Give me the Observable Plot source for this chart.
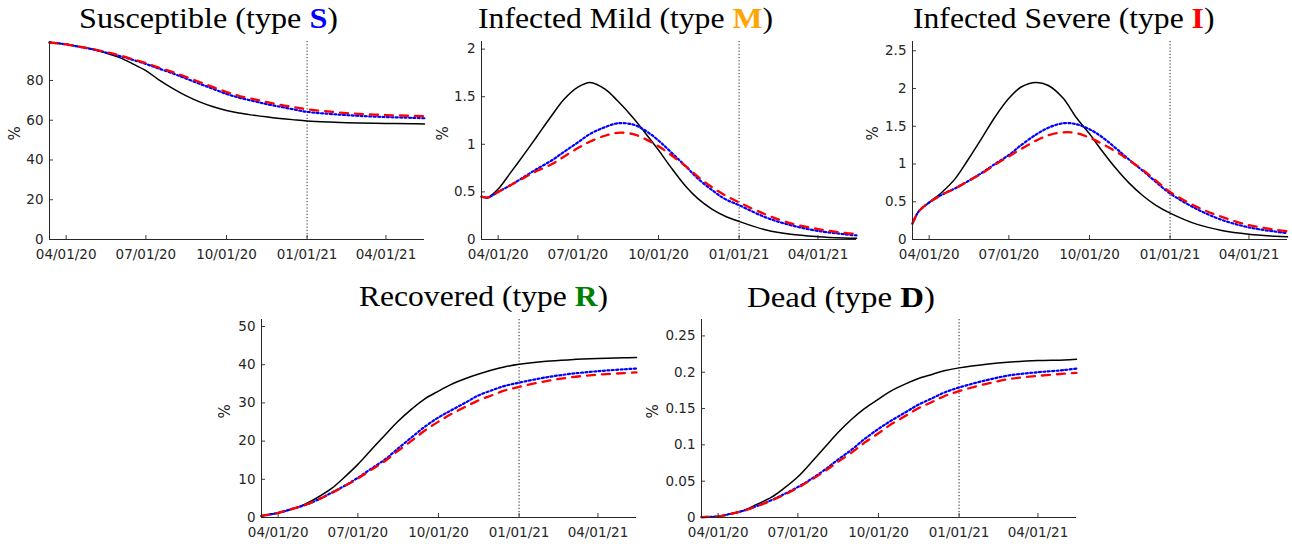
<!DOCTYPE html>
<html><head><meta charset="utf-8">
<script src="https://cdn.jsdelivr.net/npm/d3@7"></script>
<script src="https://cdn.jsdelivr.net/npm/@observablehq/plot@0.6"></script>
<style>
html,body{margin:0;padding:0;background:#fff;overflow:hidden;}
#root{position:relative;width:1292px;height:544px;overflow:hidden;}
.panel{position:absolute;}
.panel svg{max-width:none;display:block;}
.title{position:absolute;font-family:"Liberation Serif",serif;font-size:28.5px;line-height:28.5px;white-space:nowrap;color:#000;transform-origin:0 0;}
.title b{font-weight:bold;}
</style></head><body><div id="root"></div>
<script>
// ---------- data ----------
const dates = ["2020-03-13","2020-03-20","2020-04-01","2020-04-15","2020-05-01","2020-05-15","2020-06-01","2020-06-15",
  "2020-07-01","2020-07-15","2020-08-01","2020-08-15","2020-09-01","2020-09-15","2020-10-01","2020-10-15",
  "2020-11-01","2020-11-15","2020-12-01","2020-12-15","2021-01-01","2021-02-01","2021-03-01","2021-04-01",
  "2021-05-01","2021-05-15"];
const xDomain = ["2020-03-13","2021-05-15"];
const xTickDates = ["2020-04-01","2020-07-01","2020-10-01","2021-01-01","2021-04-01"];
const xTickLabels = ["04/01/20","07/01/20","10/01/20","01/01/21","04/01/21"];
const markerDate = "2021-01-01";

const susceptibleBlack = [99.1,98.8,98.2,97.1,95.7,94.0,91.5,88.6,84.9,80.6,75.9,72.5,69.1,66.9,64.9,63.6,62.5,61.7,60.9,60.3,59.6,59.0,58.6,58.4,58.2,58.1];
const susceptibleBlue  = [99.1,98.8,98.2,97.0,95.7,94.2,92.3,90.5,88.3,86.1,83.5,81.1,78.2,75.9,73.2,71.4,69.6,68.2,66.8,65.6,64.2,63.0,62.2,61.6,61.2,61.0];
const susceptibleRed   = [99.1,98.8,98.2,97.1,95.8,94.4,92.6,90.8,88.7,86.6,84.2,81.9,79.1,76.8,74.2,72.3,70.6,69.2,67.8,66.7,65.5,64.1,63.2,62.6,62.2,62.1];

const mildBlack = [0.45,0.44,0.53,0.70,0.90,1.08,1.30,1.47,1.60,1.65,1.58,1.46,1.29,1.13,0.94,0.76,0.56,0.43,0.32,0.25,0.19,0.10,0.055,0.03,0.016,0.012];
const mildBlue  = [0.45,0.44,0.50,0.57,0.66,0.74,0.83,0.92,1.02,1.11,1.18,1.22,1.21,1.15,1.04,0.92,0.77,0.64,0.52,0.43,0.36,0.23,0.15,0.09,0.055,0.043];
const mildRed   = [0.45,0.44,0.50,0.57,0.65,0.72,0.79,0.87,0.96,1.03,1.09,1.12,1.11,1.06,0.98,0.89,0.77,0.66,0.55,0.47,0.39,0.26,0.17,0.11,0.07,0.058];

const severeBlack = [0.21,0.37,0.49,0.62,0.81,1.05,1.36,1.62,1.87,2.02,2.08,2.04,1.87,1.63,1.40,1.18,0.93,0.75,0.58,0.46,0.35,0.20,0.12,0.07,0.044,0.035];
const severeBlue  = [0.21,0.37,0.49,0.59,0.68,0.77,0.89,1.00,1.12,1.25,1.39,1.48,1.54,1.53,1.46,1.36,1.20,1.06,0.91,0.77,0.61,0.40,0.26,0.16,0.105,0.085];
const severeRed   = [0.21,0.37,0.49,0.59,0.68,0.77,0.88,0.99,1.10,1.20,1.31,1.38,1.42,1.41,1.35,1.27,1.16,1.05,0.92,0.79,0.63,0.43,0.30,0.19,0.13,0.11];

const recoveredBlack = [0.4,0.7,1.2,2.1,3.4,5.1,7.6,10.4,13.9,17.4,21.6,25.0,28.5,31.0,33.1,34.8,36.4,37.5,38.6,39.4,40.1,40.9,41.3,41.6,41.8,41.9];
const recoveredBlue  = [0.4,0.7,1.2,2.1,3.2,4.5,6.5,8.2,10.4,12.6,15.2,17.9,21.1,23.7,26.2,28.0,30.1,31.9,33.3,34.4,35.3,36.7,37.6,38.3,38.8,39.0];
const recoveredRed   = [0.4,0.7,1.2,2.1,3.2,4.5,6.4,8.1,10.2,12.3,14.8,17.3,20.2,22.7,25.1,27.0,29.0,30.6,32.0,33.2,34.2,35.7,36.7,37.4,37.8,38.0];

const deadBlack = [0.0005,0.0008,0.0015,0.005,0.010,0.018,0.028,0.040,0.056,0.074,0.097,0.116,0.136,0.150,0.163,0.174,0.184,0.191,0.197,0.202,0.206,0.211,0.214,0.216,0.217,0.218];
const deadBlue  = [0.0005,0.0008,0.0015,0.005,0.0097,0.0156,0.024,0.032,0.042,0.052,0.066,0.079,0.094,0.108,0.122,0.133,0.145,0.155,0.164,0.172,0.179,0.189,0.196,0.200,0.203,0.205];
const deadRed   = [0.0005,0.0008,0.0015,0.005,0.0097,0.0155,0.0235,0.031,0.041,0.051,0.064,0.076,0.090,0.103,0.116,0.128,0.140,0.150,0.159,0.167,0.174,0.184,0.191,0.195,0.198,0.199];

const susceptibleTicks = [0,20,40,60,80];
const mildTicks = [0,0.5,1,1.5,2];
const severeTicks = [0,0.5,1,1.5,2,2.5];
const recoveredTicks = [0,10,20,30,40,50];
const deadTicks = [0,0.05,0.1,0.15,0.2,0.25];

const titleNames = ["Susceptible","Infected Mild","Infected Severe","Recovered","Dead"];
const titleLetters = ["S","M","I","R","D"];
const letterColors = ["#0000ff","#ffa500","#ff0000","#008000","#000000"];

// ---------- layout ----------
const panels = [
  {black:susceptibleBlack, blue:susceptibleBlue, red:susceptibleRed, ticks:susceptibleTicks, yMax:99.6,
   fx:49.3, fy:40.7, tx:79, tb:28.5, tw:259, pdx:-34.8},
  {black:mildBlack, blue:mildBlue, red:mildRed, ticks:mildTicks, yMax:2.08,
   fx:480.7, fy:40.7, tx:478.3, tb:29, tw:295, pdx:-38.7},
  {black:severeBlack, blue:severeBlue, red:severeRed, ticks:severeTicks, yMax:2.623,
   fx:912, fy:40.7, tx:912.7, tb:29, tw:301.5, pdx:-39},
  {black:recoveredBlack, blue:recoveredBlue, red:recoveredRed, ticks:recoveredTicks, yMax:51.83,
   fx:261, fy:319.3, tx:359.3, tb:307.3, tw:249, pdx:-36},
  {black:deadBlack, blue:deadBlue, red:deadRed, ticks:deadTicks, yMax:0.2726,
   fx:701, fy:319.3, tx:747.3, tb:307.7, tw:188, pdx:-48}
];

const root = document.getElementById("root");
const W = 375, H = 198, ml = 50, mr = 6, mt = 4, mb = 30;
const xt = xTickDates.map(d => new Date(d));
const labelFor = new Map(xt.map((d, i) => [+d, xTickLabels[i]]));
const xd = xDomain.map(d => new Date(d));
const axisColor = "#262626";
const tickFont = "DejaVu Sans";

panels.forEach((p, k) => {
  const rows = arr => arr.map((v, i) => ({date: new Date(dates[i]), value: v}));
  const svg = Plot.plot({
    width: W + ml + mr, height: H + mt + mb,
    marginLeft: ml, marginRight: mr, marginTop: mt, marginBottom: mb,
    style: {fontFamily: tickFont, fontSize: "13.5px", color: axisColor, background: "transparent", overflow: "visible"},
    x: {type: "utc", domain: xd},
    y: {domain: [0, p.yMax]},
    marks: [
      Plot.ruleX([new Date(markerDate)], {x: d => d, stroke: "#222", strokeWidth: 1, strokeDasharray: "1.2,2"}),
      Plot.line(rows(p.black), {x: "date", y: "value", stroke: "#000", strokeWidth: 1.5, curve: "catmull-rom"}),
      Plot.line(rows(p.blue), {x: "date", y: "value", stroke: "#0000ff", strokeWidth: 2.2, strokeDasharray: "2,2.4", curve: "catmull-rom"}),
      Plot.line(rows(p.red), {x: "date", y: "value", stroke: "#ff0000", strokeWidth: 2.3, strokeDasharray: "8,7", curve: "catmull-rom"}),
      Plot.ruleY([0], {y: d => d, stroke: axisColor, strokeWidth: 1}),
      Plot.ruleX([xd[0]], {x: d => d, stroke: axisColor, strokeWidth: 1}),
      Plot.ruleX(xt, {x: d => d, insetTop: H - 4, stroke: axisColor, strokeWidth: 0.9}),
      Plot.ruleY(p.ticks, {y: d => d, insetRight: W - 4, stroke: axisColor, strokeWidth: 0.9}),
      Plot.axisX(xt, {tickFormat: d => labelFor.get(+d), tickSize: 0, tickPadding: 10, label: null, fontSize: 13.5, fontFamily: tickFont}),
      Plot.axisY(p.ticks, {tickFormat: d => String(d), tickSize: 0, tickPadding: 6, label: null, fontSize: 13.5, fontFamily: tickFont}),
      Plot.text(["%"], {frameAnchor: "left", dx: p.pdx, rotate: -90, fontSize: 15, fontFamily: tickFont, fill: axisColor})
    ]
  });
  const div = document.createElement("div");
  div.className = "panel";
  div.style.left = (p.fx - ml) + "px";
  div.style.top = (p.fy - mt) + "px";
  div.style.width = (W + ml + mr) + "px";
  div.appendChild(svg);
  root.appendChild(div);
});

panels.forEach((p, k) => {
  const t = document.createElement("div");
  t.className = "title";
  t.appendChild(document.createTextNode(titleNames[k] + " (type "));
  const b = document.createElement("b");
  b.textContent = titleLetters[k];
  b.style.color = letterColors[k];
  t.appendChild(b);
  t.appendChild(document.createTextNode(")"));
  root.appendChild(t);
  const fs = 28.5;
  t.style.left = p.tx + "px";
  t.style.top = (p.tb - 0.8375 * fs) + "px";
  const w = t.getBoundingClientRect().width;
  t.style.transform = "scaleX(" + (p.tw / w) + ")";
});
</script>
</body></html>
